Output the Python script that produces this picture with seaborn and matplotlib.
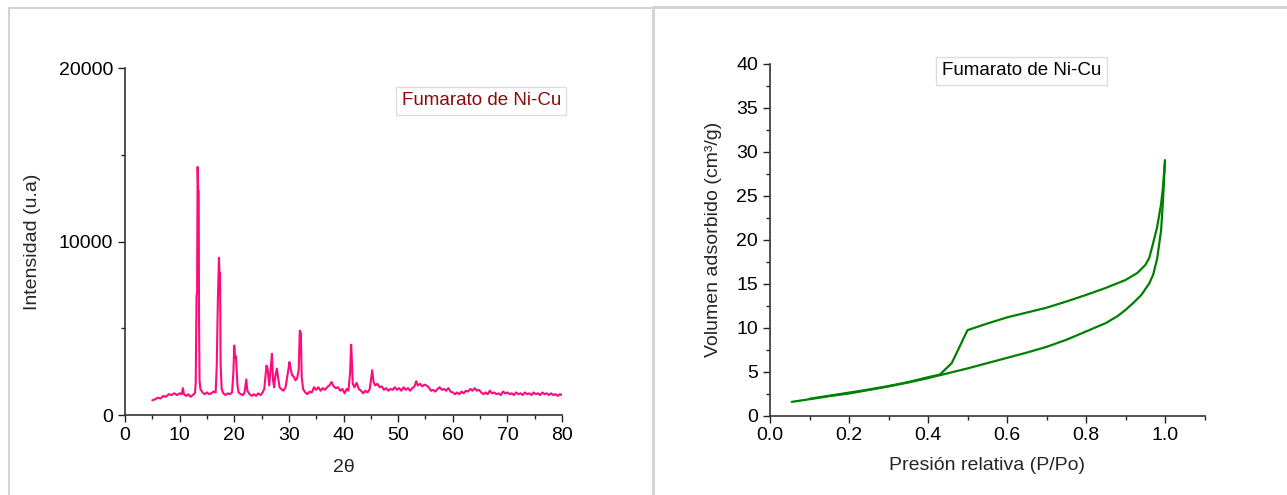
import matplotlib
matplotlib.use("Agg")
import matplotlib.pyplot as plt
from matplotlib.lines import Line2D
from matplotlib.ticker import MultipleLocator
import seaborn as sns

# XRD pattern (2theta, intensity in a.u.)
two_theta = [5.0, 5.5, 6.0, 6.5, 7.0, 7.5, 8.0, 8.5, 9.0, 9.5, 10.0, 10.4, 10.6, 10.8,
             11.2, 11.6, 12.0, 12.4, 12.8, 12.95, 13.1, 13.2, 13.3, 13.4, 13.5, 13.55,
             13.65, 13.8, 14.2, 14.6, 15.0, 15.4, 15.8, 16.2, 16.6, 16.8, 17.0, 17.2,
             17.3, 17.4, 17.5, 17.7, 18.0, 18.4, 18.8, 19.2, 19.6, 19.85, 20.0, 20.15,
             20.3, 20.45, 20.6, 20.8, 21.2, 21.6, 21.9, 22.2, 22.4, 22.8, 23.2, 23.6,
             24.0, 24.4, 24.8, 25.2, 25.5, 25.9, 26.1, 26.4, 26.7, 26.9, 27.1, 27.3,
             27.5, 27.8, 28.0, 28.3, 28.6, 29.0, 29.4, 29.7, 29.9, 30.1, 30.3, 30.6,
             30.9, 31.2, 31.5, 31.8, 32.0, 32.2, 32.35, 32.6, 33.0, 33.4, 33.8, 34.2,
             34.6, 35.0, 35.4, 35.8, 36.2, 36.6, 37.0, 37.4, 37.8, 38.2, 38.6, 39.0,
             39.4, 39.8, 40.2, 40.6, 40.9, 41.2, 41.4, 41.55, 41.7, 42.0, 42.4, 42.8,
             43.2, 43.6, 44.0, 44.4, 44.8, 45.1, 45.25, 45.5, 45.8, 46.2, 46.6, 47.0,
             47.4, 47.8, 48.2, 48.6, 49.0, 49.4, 49.8, 50.2, 50.6, 51.0, 51.4, 51.8,
             52.2, 52.6, 53.0, 53.3, 53.6, 54.0, 54.4, 54.8, 55.2, 55.6, 56.0, 56.4,
             56.8, 57.2, 57.6, 58.0, 58.4, 58.8, 59.2, 59.6, 60.0, 60.4, 60.8, 61.2,
             61.6, 62.0, 62.4, 62.8, 63.2, 63.6, 64.0, 64.4, 64.8, 65.2, 65.6, 66.0,
             66.4, 66.8, 67.2, 67.6, 68.0, 68.4, 68.8, 69.2, 69.6, 70.0, 70.4, 70.8,
             71.2, 71.6, 72.0, 72.4, 72.8, 73.2, 73.6, 74.0, 74.4, 74.8, 75.2, 75.6,
             76.0, 76.4, 76.8, 77.2, 77.6, 78.0, 78.4, 78.8, 79.2, 79.6, 80.0]
intensity = [850, 900, 1000, 950, 1100, 1050, 1200, 1150, 1250, 1150, 1250, 1200, 1550, 1200,
             1100, 1200, 1050, 1150, 1250, 1800, 6900, 7000, 14300, 12950, 12900, 6000,
             2000, 1500, 1300, 1200, 1300, 1200, 1250, 1350, 1300, 2850, 6550, 9060,
             8200, 8200, 3000, 1500, 1250, 1150, 1250, 1200, 1300, 2500, 4000, 3300,
             3400, 2600, 1700, 1300, 1200, 1150, 1300, 2050, 1400, 1200, 1100, 1200,
             1100, 1250, 1150, 1300, 1500, 2850, 2700, 1700, 2800, 3530, 2000, 1600,
             2200, 2680, 2200, 1600, 1500, 1400, 1600, 2200, 2600, 3050, 2700, 2300,
             2200, 2000, 2100, 2600, 4860, 4700, 2200, 1500, 1300, 1200, 1350, 1300,
             1600, 1450, 1600, 1400, 1550, 1450, 1600, 1700, 1900, 1650, 1550, 1600,
             1400, 1500, 1250, 1500, 1400, 2400, 4050, 3000, 1800, 1600, 1850, 1500,
             1400, 1250, 1400, 1300, 1500, 2200, 2580, 1900, 1700, 1800, 1600, 1650,
             1450, 1550, 1400, 1500, 1450, 1600, 1450, 1550, 1400, 1600, 1450, 1550,
             1400, 1550, 1650, 1950, 1700, 1800, 1650, 1750, 1700, 1600, 1400, 1450,
             1350, 1500, 1600, 1450, 1500, 1400, 1550, 1350, 1300, 1200, 1300, 1200,
             1350, 1250, 1400, 1350, 1500, 1400, 1550, 1400, 1450, 1300, 1200, 1300,
             1200, 1400, 1250, 1300, 1200, 1250, 1150, 1350, 1250, 1300, 1200, 1250,
             1150, 1300, 1200, 1250, 1150, 1300, 1200, 1250, 1150, 1300, 1200, 1250,
             1150, 1300, 1200, 1250, 1150, 1250, 1150, 1200, 1100, 1200, 1150]

# N2 isotherm, adsorption branch
p_ads = [0.055, 0.1, 0.15, 0.2, 0.25, 0.3, 0.35, 0.4, 0.45, 0.5, 0.55, 0.6, 0.65, 0.7,
         0.75, 0.8, 0.85, 0.88, 0.9, 0.92, 0.94, 0.96, 0.97, 0.98, 0.99, 0.995, 1.0]
v_ads = [1.55, 1.85, 2.2, 2.5, 2.9, 3.3, 3.75, 4.25, 4.8, 5.35, 5.95, 6.55, 7.15, 7.8,
         8.6, 9.55, 10.5, 11.3, 12.0, 12.8, 13.7, 15.0, 16.0, 17.8, 21.0, 24.5, 29.0]
# desorption branch
p_des = [1.0, 0.995, 0.99, 0.98, 0.97, 0.96, 0.95, 0.93, 0.9, 0.85, 0.8, 0.75, 0.7,
         0.65, 0.6, 0.55, 0.5, 0.46, 0.43, 0.4, 0.35, 0.3, 0.25, 0.2, 0.15, 0.1]
v_des = [29.0, 26.0, 24.0, 21.4, 19.6, 17.9, 17.1, 16.2, 15.4, 14.5, 13.7, 12.95, 12.25,
         11.7, 11.15, 10.45, 9.7, 5.95, 4.65, 4.35, 3.8, 3.35, 2.95, 2.6, 2.25, 1.9]

label_txt = "Fumarato de Ni-Cu"

sns.set_theme(style="ticks")
plt.rcParams["font.family"] = ["Liberation Sans", "DejaVu Sans"]

fig = plt.figure(figsize=(12.87, 4.95), dpi=100)
ax1 = fig.add_axes([0.0971, 0.1616, 0.3396, 0.701])
ax2 = fig.add_axes([0.5983, 0.1606, 0.3376, 0.711])

# panel borders (screenshot frames)
border = "#d2d2d2"
fig.add_artist(Line2D([9 / 1287, 9 / 1287], [0, 1 - 8 / 495], color=border, lw=1.5))
fig.add_artist(Line2D([9 / 1287, 651 / 1287], [1 - 8 / 495, 1 - 8 / 495], color=border, lw=1.5))
fig.add_artist(Line2D([653 / 1287, 653 / 1287], [0, 1 - 7 / 495], color=border, lw=2))
fig.add_artist(Line2D([653 / 1287, 1], [1 - 7 / 495, 1 - 7 / 495], color=border, lw=2))

sns.lineplot(x=two_theta, y=intensity, ax=ax1, color="#ff0a7c", lw=1.5,
             sort=False, estimator=None)
sns.lineplot(x=p_ads, y=v_ads, ax=ax2, color="#008000", lw=1.6,
             sort=False, estimator=None)
sns.lineplot(x=p_des, y=v_des, ax=ax2, color="#008000", lw=1.6,
             sort=False, estimator=None)

ax1.set_xlim(0, 80)
ax1.set_ylim(0, 20000)
ax1.xaxis.set_major_locator(MultipleLocator(10))
ax1.xaxis.set_minor_locator(MultipleLocator(5))
ax1.yaxis.set_major_locator(MultipleLocator(10000))
ax1.yaxis.set_minor_locator(MultipleLocator(5000))
ax1.set_xlabel("2θ", fontsize=14, labelpad=11)
ax1.set_ylabel("Intensidad (u.a)", fontsize=14, labelpad=13)

ax2.set_xlim(0, 1.1)
ax2.set_ylim(0, 40)
ax2.set_xticks([0.0, 0.2, 0.4, 0.6, 0.8, 1.0])
ax2.xaxis.set_minor_locator(MultipleLocator(0.1))
ax2.yaxis.set_major_locator(MultipleLocator(5))
ax2.yaxis.set_minor_locator(MultipleLocator(2.5))
ax2.set_xticklabels(["0.0", "0.2", "0.4", "0.6", "0.8", "1.0"])
ax2.set_xlabel("Presión relativa (P/Po)", fontsize=14, labelpad=9)
ax2.set_ylabel("Volumen adsorbido (cm³/g)", fontsize=14, labelpad=10)

for ax in (ax1, ax2):
    sns.despine(ax=ax)
    for s in ("left", "bottom"):
        ax.spines[s].set_color("#333333")
        ax.spines[s].set_linewidth(1.2)
    ax.tick_params(which="major", direction="out", length=5, width=1, colors="#222222",
                   labelsize=14, labelcolor="black")
    ax.tick_params(which="minor", direction="out", length=3, width=1, colors="#222222")

ax1.text(0.815, 0.905, label_txt, transform=ax1.transAxes, ha="center", va="center",
         fontsize=13.5, color="#8b0a0a",
         bbox=dict(boxstyle="square,pad=0.3", fc="white", ec="#dddddd", lw=1))
ax2.text(0.579, 0.979, label_txt, transform=ax2.transAxes, ha="center", va="center",
         fontsize=13.5, color="black",
         bbox=dict(boxstyle="square,pad=0.3", fc="white", ec="#dddddd", lw=1))

fig.savefig("out.png", dpi=100)
